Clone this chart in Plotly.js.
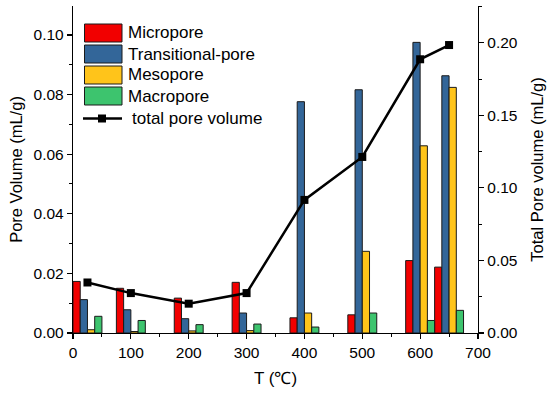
<!DOCTYPE html>
<html><head><meta charset="utf-8">
<script src="https://cdn.plot.ly/plotly-3.0.1.min.js"></script>
<style>html,body{margin:0;padding:0;background:#fff}#chart{width:550px;height:396px}</style>
</head><body><div id="chart"></div>
<script>
const temperatures = [25, 100, 200, 300, 400, 500, 600, 650];
const seriesNames = ['Micropore', 'Transitional-pore', 'Mesopore', 'Macropore'];
const micropore = [0.0173, 0.0150, 0.0117, 0.0170, 0.0051, 0.0061, 0.0243, 0.0221];
const transitional = [0.0112, 0.0078, 0.0048, 0.0067, 0.0776, 0.0816, 0.0975, 0.0863];
const mesopore = [0.0011, 0.0005, 0.0007, 0.0008, 0.0067, 0.0274, 0.0628, 0.0824];
const macropore = [0.0056, 0.0042, 0.0028, 0.0030, 0.0020, 0.0067, 0.0042, 0.0076];
const totalName = 'total pore volume';
const totalVolume = [0.0348, 0.0275, 0.0202, 0.0275, 0.0917, 0.1213, 0.1886, 0.1984];
const xTicks = [0, 100, 200, 300, 400, 500, 600, 700];

const colors = ['#f20000', '#336699', '#ffc41a', '#3dc46e'];
const FONT = 'Liberation Sans, Arial, sans-serif';
const seriesValues = [micropore, transitional, mesopore, macropore];

const traces = seriesValues.map((vals, i) => ({
  type: 'bar', x: temperatures, y: vals, name: seriesNames[i],
  marker: {color: colors[i], line: {color: '#1a1a1a', width: 1}},
  showlegend: false, hoverinfo: 'skip'
}));
traces.push({
  type: 'scatter', mode: 'lines+markers', x: temperatures, y: totalVolume,
  yaxis: 'y2', name: totalName, showlegend: false,
  line: {color: '#000', width: 2.5}, marker: {symbol: 'square', size: 8, color: '#000'}
});

// custom legend (pixel layout -> paper coords)
const M = {l: 73, r: 72, t: 6, b: 63};
const W = 550, H = 396, PW = W - M.l - M.r, PH = H - M.t - M.b;
const px = v => (v - M.l) / PW;
const py = v => (H - M.b - v) / PH;
const shapes = [], annotations = [];
seriesNames.forEach((n, i) => {
  const top = 24 + i * 21;
  shapes.push({type: 'rect', xref: 'paper', yref: 'paper',
    x0: px(84.5), x1: px(122), y0: py(top), y1: py(top + 18),
    fillcolor: colors[i], line: {color: '#1a1a1a', width: 1}});
  annotations.push({xref: 'paper', yref: 'paper', x: px(126), y: py(top + 9),
    xanchor: 'left', yanchor: 'middle', text: n, showarrow: false,
    font: {family: FONT, size: 17, color: '#000'}});
});
const ly = 118.5;
shapes.push({type: 'line', xref: 'paper', yref: 'paper', x0: px(83), x1: px(122),
  y0: py(ly), y1: py(ly), line: {color: '#000', width: 2.5}});
shapes.push({type: 'rect', xref: 'paper', yref: 'paper', x0: px(98), x1: px(106),
  y0: py(ly - 4), y1: py(ly + 4), fillcolor: '#000', line: {width: 0}});
annotations.push({xref: 'paper', yref: 'paper', x: px(130), y: py(ly),
  xanchor: 'left', yanchor: 'middle', text: totalName, showarrow: false,
  font: {family: FONT, size: 17, color: '#000'}});

const axisCommon = {
  showgrid: false, zeroline: false, showline: true, linecolor: '#000', linewidth: 1.2,
  ticks: 'outside', ticklen: 5, tickwidth: 1.2, tickcolor: '#000',
  tickfont: {family: FONT, size: 15.5, color: '#000'}
};

const layout = {
  width: W, height: H, margin: M,
  paper_bgcolor: '#fff', plot_bgcolor: '#fff',
  barmode: 'group', bargap: 0, bargroupgap: 0,
  font: {family: FONT, color: '#000'},
  xaxis: Object.assign({}, axisCommon, {
    range: [0, 700], tickvals: xTicks, ticktext: xTicks.map(String),
    minor: {dtick: 50, tick0: 0, ticklen: 3, tickwidth: 1, tickcolor: '#000', ticks: 'outside'},
    title: {text: 'T (℃)', font: {family: FONT, size: 17, color: '#000'}, standoff: 12}
  }),
  yaxis: Object.assign({}, axisCommon, {
    range: [0, 0.1097], dtick: 0.02, tick0: 0, tickformat: '.2f',
    minor: {dtick: 0.01, tick0: 0, ticklen: 3, tickwidth: 1, tickcolor: '#000', ticks: 'outside'},
    title: {text: 'Pore Volume (mL/g)', font: {family: FONT, size: 16.5, color: '#000'}, standoff: 6}
  }),
  yaxis2: Object.assign({}, axisCommon, {
    overlaying: 'y', side: 'right', anchor: 'x',
    range: [0, 0.2253], dtick: 0.05, tick0: 0, tickformat: '.2f',
    minor: {dtick: 0.025, tick0: 0, ticklen: 3, tickwidth: 1, tickcolor: '#000', ticks: 'outside'},
    title: {text: 'Total Pore volume (mL/g)', font: {family: FONT, size: 16.5, color: '#000'}, standoff: 14}
  }),
  shapes: shapes, annotations: annotations
};

Plotly.newPlot('chart', traces, layout, {displayModeBar: false, staticPlot: true});
</script>
</body></html>
